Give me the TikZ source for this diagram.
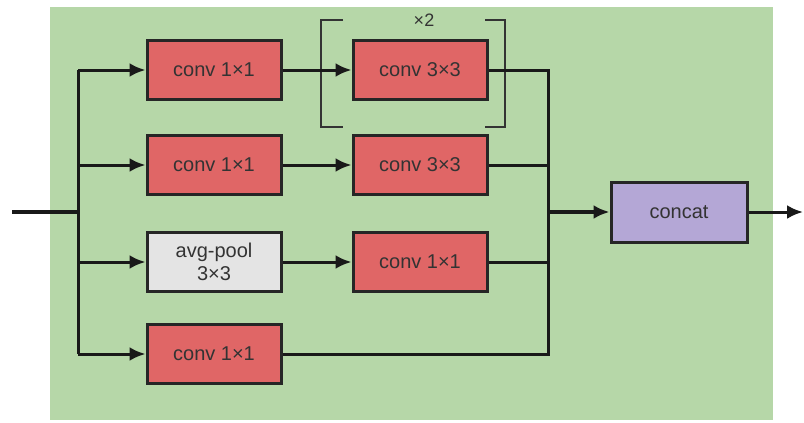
\documentclass[tikz,border=0pt]{standalone}
\usepackage{fontspec}
\setmainfont{Liberation Sans}
\usetikzlibrary{arrows.meta}
\definecolor{bggreen}{RGB}{182,215,168}
\definecolor{convred}{RGB}{224,102,102}
\definecolor{poolgray}{RGB}{228,228,228}
\definecolor{catpurple}{RGB}{180,167,214}

\begin{document}
\begin{tikzpicture}[x=0.5pt,y=-0.5pt,
    layer/.style = {draw=black!85, line width=1.5pt,
      minimum width=67pt, minimum height=29.5pt, inner sep=0pt,
      font=\fontsize{10}{11.5}\selectfont, text=black!80, align=center},
    conv/.style  = {layer, fill=convred},
    pool/.style  = {layer, fill=poolgray},
    merge/.style = {layer, fill=catpurple, minimum width=68pt, minimum height=30pt},
    wire/.style  = {line width=1.5pt, black!90},
    flow/.style  = {wire, -{Latex[length=8pt,width=7pt]}},
    repeat/.style = {line width=0.7pt, black!80}]
  \useasboundingbox (0,0) rectangle (804,423);
  \fill[bggreen] (50,7) rectangle (773,420);

  % first column
  \node[conv] (c11a) at (214,70)  {conv 1×1};
  \node[conv] (c11b) at (214,165) {conv 1×1};
  \node[pool] (pool) at (214,262) {avg-pool\\3×3};
  \node[conv] (c11d) at (214,354) {conv 1×1};
  % second column
  \node[conv] (c33a) at (420,70)  {conv 3×3};
  \node[conv] (c33b) at (420,165) {conv 3×3};
  \node[conv] (c11c) at (420,262) {conv 1×1};
  % output
  \node[merge] (concat) at (679,212) {concat};

  \coordinate (in)    at (12,212);
  \coordinate (split) at (78,212);
  \coordinate (join)  at (548,212);
  \coordinate (out)   at (803,212);

  % repeat bracket
  \draw[repeat] (343,20) -- (321,20) -- (321,127) -- (343,127);
  \draw[repeat] (485,20) -- (505,20) -- (505,127) -- (485,127);
  \node[font=\fontsize{9}{10}\selectfont, text=black!80] (times) at (424,20) {×2};

  % branches
  \draw[wire, line width=2pt] (in) -- (split);
  \draw[wire] (split |- c11a) -- (split |- c11d);
  \draw[flow] (split |- c11a) -- (c11a);
  \draw[flow] (split |- c11b) -- (c11b);
  \draw[flow] (split |- pool) -- (pool);
  \draw[flow] (split |- c11d) -- (c11d);
  \draw[flow] (c11a) -- (c33a);
  \draw[flow] (c11b) -- (c33b);
  \draw[flow] (pool) -- (c11c);
  \draw[wire] (c33a) -| (join);
  \draw[wire] (c33b) -| (join);
  \draw[wire] (c11c) -| (join);
  \draw[wire] (c11d) -| (join);
  \draw[flow, line width=2pt] (join) -- (concat);
  \draw[flow] (concat) -- (out);
\end{tikzpicture}
\end{document}
